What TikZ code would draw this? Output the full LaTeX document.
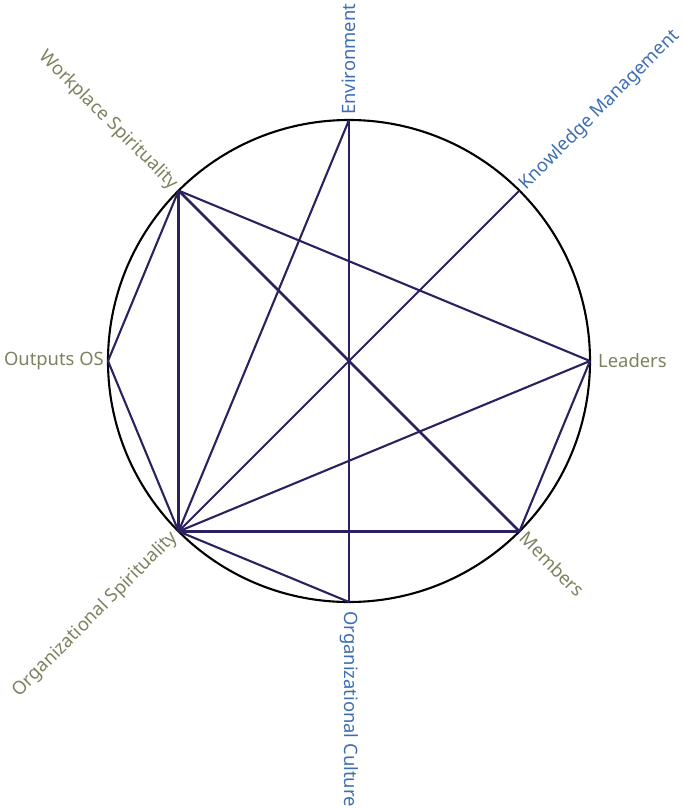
\documentclass[tikz,border=0pt]{standalone}
\usepackage{fontspec}
\setmainfont{Noto Sans}
\definecolor{olivelab}{RGB}{125,130,95}
\definecolor{bluelab}{RGB}{62,110,180}
\definecolor{navy}{RGB}{42,34,96}
\begin{document}
\begin{tikzpicture}[x=1pt,y=1pt,
  edge/.style={draw=navy,line width=2.1pt},
  thick edge/.style={draw=navy,line width=2.7pt},
  lab/.style={font=\fontsize{18.4}{20}\selectfont,inner sep=0pt},
  pt/.style={inner sep=0pt,minimum size=0pt}]
\useasboundingbox (-349,-448) rectangle (334,361);
\def\R{241}
\draw[black,line width=2.1pt] (0,0) circle (\R);
% points
\node[pt] (env) at (90:\R) {};
\node[pt] (km) at (45:\R) {};
\node[pt] (lead) at (0:\R) {};
\node[pt] (mem) at (-45:\R) {};
\node[pt] (oc) at (-90:\R) {};
\node[pt] (os) at (-135:\R) {};
\node[pt] (out) at (180:\R) {};
\node[pt] (ws) at (135:\R) {};
% labels
\node[lab,text=bluelab,rotate=90,anchor=west] (envl) at (90:\R+5) {Environment};
\node[lab,text=bluelab,rotate=45,anchor=west] (kml) at (45:\R+5) {Knowledge Management};
\node[lab,text=olivelab,anchor=west] (leadl) at (0:\R+8) {Leaders};
\node[lab,text=olivelab,rotate=-45,anchor=west] (meml) at (-45:\R+5) {Members};
\node[lab,text=bluelab,rotate=-90,anchor=west] (ocl) at (-90:\R+9) {Organizational Culture};
\node[lab,text=olivelab,rotate=45,anchor=east] (osl) at (-135:\R+5) {Organizational Spirituality};
\node[lab,text=olivelab,anchor=east] (outl) at (180:\R+4) {Outputs OS};
\node[lab,text=olivelab,rotate=-45,anchor=east] (wsl) at (135:\R+5) {Workplace Spirituality};
% edges
\draw[edge] (ws.center) -- (lead.center);
\draw[thick edge] (ws.center) -- (mem.center);
\draw[thick edge] (ws.center) -- (os.center);
\draw[edge] (ws.center) -- (out.center);
\draw[edge] (out.center) -- (os.center);
\draw[edge] (os.center) -- (env.center);
\draw[edge] (os.center) -- (km.center);
\draw[edge] (os.center) -- (lead.center);
\draw[thick edge] (os.center) -- (mem.center);
\draw[edge] (os.center) -- (oc.center);
\draw[edge] (env.center) -- (oc.center);
\draw[edge] (lead.center) -- (mem.center);
\end{tikzpicture}
\end{document}
